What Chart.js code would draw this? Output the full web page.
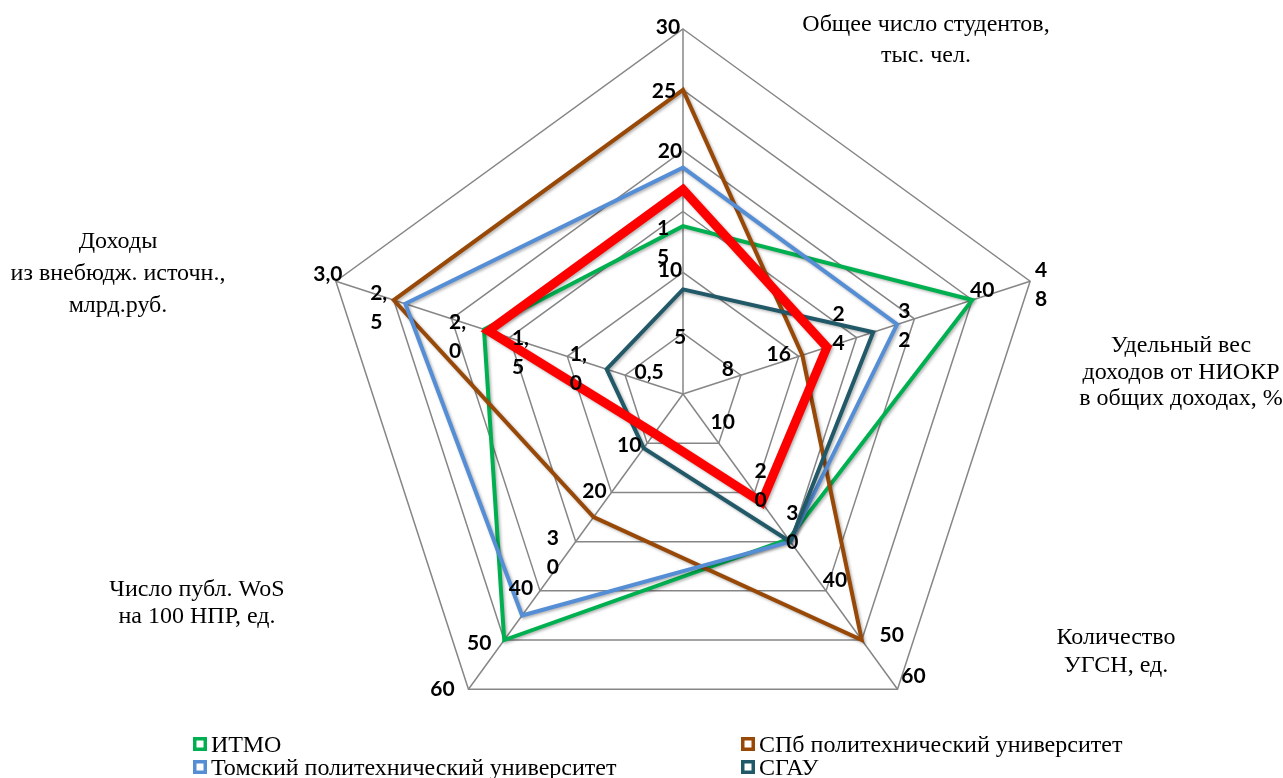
<!DOCTYPE html>
<html lang="ru">
<head>
<meta charset="utf-8">
<title>Сравнение вузов</title>
<script src="https://cdn.jsdelivr.net/npm/chart.js@4.4.1/dist/chart.umd.min.js"></script>
<style>
  html, body { margin: 0; padding: 0; background: #ffffff; }
  #wrap { position: relative; width: 1283px; height: 778px; }
</style>
</head>
<body>
<div id="wrap"><canvas id="radar"></canvas></div>
<script>
// Оси по часовой стрелке, начиная с верхней
const axisTitles = [
  ['Общее число студентов,', 'тыс. чел.'],
  ['Удельный вес', 'доходов от НИОКР', 'в общих доходах, %'],
  ['Количество', 'УГСН, ед.'],
  ['Число публ. WoS', 'на 100 НПР, ед.'],
  ['Доходы', 'из внебюдж. источн.,', 'млрд.руб.']
];

// цена одного кольца сетки на каждой оси (колец шесть)
const axisSteps = [5, 8, 10, 10, 0.5];

// подписи делений, переносы как на исходной картинке
const axisTicks = [
  ['5', '10', '1\n5', '20', '25', '30'],
  ['8', '16', '2\n4', '3\n2', '40', '4\n8'],
  ['10', '2\n0', '3\n0', '40', '50', '60'],
  ['10', '20', '3\n0', '40', '50', '60'],
  ['0,5', '1,\n0', '1,\n5', '2,\n0', '2,\n5', '3,0']
];

const itmo = [13.8, 40, 29.5, 50, 1.72];
const spbpu = [25, 16.5, 50, 25, 2.5];
const tpu = [18.6, 29.6, 30, 45, 2.4];
const ssau = [8.6, 26.3, 30, 11, 0.66];
const target = [16.8, 19.9, 22, 8, 1.68];

// смещения подписей делений относительно точки на оси, px
const tickNudges = [
  [[-3, 4], [-13, -2], [-20, 31], [-13, 1], [-19, 1], [-15, -2]],
  [[-13, -6], [-20, -2], [-18, -9], [-10, 7], [10, -10], [11, 4]],
  [[4, -21], [6, -7], [2, -14], [9, -11], [30, -5], [16, -13]],
  [[-18, 2], [-17, -1], [-23, 11], [-19, -3], [-25, 3], [-26, 0]],
  [[24, -3], [11, 12], [11, 15], [6, 18], [-15, 8], [-8, -7]]
];

// расположение названий осей: центр по x, первая базовая линия, интервал
const titleLayout = [
  { x: 926, y: 31, lh: 31 },
  { x: 1181, y: 352, lh: 26.5 },
  { x: 1116, y: 644, lh: 28 },
  { x: 197, y: 596, lh: 27 },
  { x: 118, y: 248, lh: 32 }
];

const gridColor = '#868686';

function toLevels(values) {
  return values.map((v, i) => v / axisSteps[i]);
}

function series(label, values, color, width, order) {
  return {
    label,
    data: toLevels(values),
    borderColor: color,
    backgroundColor: color,
    borderWidth: width,
    borderJoinStyle: 'miter',
    fill: false,
    pointRadius: 0,
    pointHoverRadius: 0,
    order
  };
}

const shadowPlugin = {
  id: 'lineShadow',
  beforeDatasetDraw(chart) {
    const ctx = chart.ctx;
    ctx.save();
    ctx.shadowColor = 'rgba(0,0,0,0.3)';
    ctx.shadowBlur = 3;
    ctx.shadowOffsetX = 1.5;
    ctx.shadowOffsetY = 1.5;
  },
  afterDatasetDraw(chart) {
    chart.ctx.restore();
  }
};

const labelsPlugin = {
  id: 'axisText',
  afterDraw(chart) {
    const ctx = chart.ctx;
    const scale = chart.scales.r;
    ctx.save();
    ctx.fillStyle = '#000000';

    // подписи делений на каждой оси
    ctx.font = 'bold 21px Lato';
    ctx.textBaseline = 'middle';
    ctx.textAlign = 'left';
    axisTicks.forEach((ticks, axis) => {
      ticks.forEach((text, k) => {
        const p = scale.getPointPosition(axis, scale.getDistanceFromCenterForValue(k + 1));
        const lines = text.split('\n');
        const lineH = 29;
        const w = Math.max(...lines.map((l) => ctx.measureText(l).width));
        const cx = p.x + tickNudges[axis][k][0];
        const cy = p.y + tickNudges[axis][k][1];
        const top = cy - (lines.length - 1) * lineH / 2;
        lines.forEach((l, j) => ctx.fillText(l, cx - w / 2, top + j * lineH));
      });
    });

    // названия осей
    ctx.font = '24px "Liberation Serif"';
    ctx.textBaseline = 'alphabetic';
    ctx.textAlign = 'center';
    axisTitles.forEach((lines, i) => {
      const t = titleLayout[i];
      lines.forEach((l, j) => ctx.fillText(l, t.x, t.y + j * t.lh));
    });

    // легенда в две колонки
    const items = chart.data.datasets.filter((d) => d.label);
    const cols = [193, 741];
    const rows = [752, 775];
    ctx.font = '24px "Liberation Serif"';
    ctx.textAlign = 'left';
    items.forEach((d, i) => {
      const x = cols[i % 2];
      const base = rows[Math.floor(i / 2)];
      ctx.lineWidth = 3.5;
      ctx.strokeStyle = d.borderColor;
      ctx.strokeRect(x + 1.75, base - 15 + 1.75, 14 - 3.5, 14 - 3.5);
      ctx.fillStyle = '#000000';
      ctx.fillText(d.label, x + 18, base);
    });
    ctx.restore();
  }
};

new Chart(document.getElementById('radar'), {
  type: 'radar',
  data: {
    labels: axisTitles,
    datasets: [
      series('ИТМО', itmo, '#00B050', 4, 5),
      series('СПб политехнический университет', spbpu, '#984807', 4, 4),
      series('Томский политехнический университет', tpu, '#558ED5', 4, 3),
      series('СГАУ', ssau, '#215968', 4, 2),
      series('', target, '#FF0000', 9, 1)
    ]
  },
  options: {
    responsive: true,
    maintainAspectRatio: false,
    animation: false,
    layout: { padding: { left: 318, right: 235, top: 29, bottom: 19 } },
    plugins: {
      legend: { display: false },
      tooltip: { enabled: false }
    },
    scales: {
      r: {
        min: 0,
        max: 6,
        ticks: { display: false, stepSize: 1 },
        grid: { color: gridColor, lineWidth: 1.5 },
        angleLines: { color: gridColor, lineWidth: 1.5 },
        pointLabels: { display: false }
      }
    }
  },
  plugins: [shadowPlugin, labelsPlugin]
});
</script>
</body>
</html>
